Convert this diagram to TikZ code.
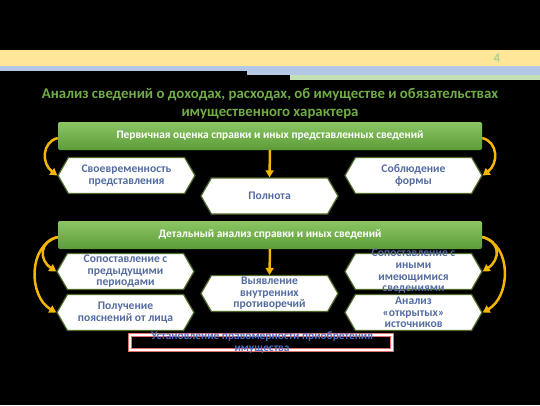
\documentclass[tikz,border=0pt]{standalone}
\usepackage{fontspec}
\setmainfont{Carlito}
\usetikzlibrary{scopes,shapes.symbols,arrows.meta}
\definecolor{slideYellow}{RGB}{255,230,153}
\definecolor{slideBlue}{RGB}{180,199,231}
\definecolor{slideGreen}{RGB}{197,224,180}
\definecolor{titleGreen}{RGB}{112,173,71}
\definecolor{barTop}{RGB}{140,198,100}
\definecolor{barBottom}{RGB}{92,156,56}
\definecolor{hexBorder}{RGB}{79,104,40}
\definecolor{hexText}{RGB}{84,108,160}
\definecolor{arrowGold}{RGB}{244,182,0}
\definecolor{boxRed}{RGB}{234,110,110}
\definecolor{boxText}{RGB}{78,110,200}

\begin{document}
\begin{tikzpicture}[x=1pt,y=1pt]
    \fill[black] (0,0) rectangle (540,405);
    \useasboundingbox (0,0) rectangle (540,405);
    % header strips
    \fill[slideYellow] (0,339) rectangle (540,355);
    \fill[slideBlue] (0,334) rectangle (540,339);
    \fill[slideBlue] (247,330) rectangle (540,334);
    \fill[slideGreen] (290,325) rectangle (540,330);
    \node[text=slideGreen!70!titleGreen, font=\bfseries\fontsize{13}{14}\selectfont] (num) at (497,347) {4};
    \node[text=titleGreen, align=center, font=\bfseries\fontsize{14.8}{18}\selectfont] (title) at (270,301)
      {Анализ сведений о доходах, расходах, об имуществе и обязательствах\\имущественного характера};
    {[every node/.style={top color=barTop, bottom color=barBottom, rounded corners=2pt, minimum width=424pt, minimum height=28pt, text=white, font=\bfseries\fontsize{11.4}{12}\selectfont}]
    \node (POS) at (270,269) {Первичная оценка справки и иных представленных сведений};
    \node (DAS) at (270,170) {Детальный анализ справки и иных сведений};
    }
    {[every node/.style={shape=signal, signal to=west and east, signal pointer angle=120, draw=hexBorder, line width=1.2pt, fill=white, minimum width=137pt, minimum height=36pt, inner sep=1pt, align=center, text=hexText, font=\bfseries\fontsize{11.6}{11.6}\selectfont}]
    \node (SVR) at (126.5,229.5) {Своевременность\\представления};
    \node (PLN) at (269.5,209) {Полнота};
    \node (SBF) at (413.5,229.5) {Соблюдение\\формы};
    \node (SPP) at (125.5,133.5) {Сопоставление с\\предыдущими\\периодами};
    \node (PPL) at (125.5,92.5) {Получение\\пояснений от лица};
    \node (VVP) at (269.5,111.5) {Выявление\\внутренних\\противоречий};
    \node (SIS) at (413.5,133.5) {};
    \node (AOI) at (413.5,92.5) {Анализ\\«открытых»\\источников};
    }
    \node[text=hexText, align=center, font=\bfseries\fontsize{11.6}{11.6}\selectfont] (SIS-text) at (SIS) {Сопоставление с\\иными\\имеющимися\\сведениями};
    \node[draw=boxRed, double=white, double distance=1.2pt, line width=1pt, fill=black, minimum width=262pt, minimum height=15pt] (UPP) at (261,62.5) {};
    \node[text=boxText, align=center, font=\bfseries\fontsize{11.4}{12}\selectfont] (UPP-text) at (262,62.5) {Установление правомерности приобретения\\имущества};
    {[arrowGold, line width=2.5pt, -{Triangle[length=7pt,width=8pt]}]
      \draw ([yshift=-2pt]POS.west) .. controls +(-16,-4) and +(-16,12) .. (SVR.west);
      \draw ([yshift=-2pt]POS.east) .. controls +(16,-4) and +(16,12) .. (SBF.east);
      \draw (POS.south) -- (PLN.north);
      \draw ([yshift=-2pt]DAS.west) .. controls +(-18,-4) and +(-18,12) .. (SPP.west);
      \draw ([yshift=-2pt]DAS.west) .. controls +(-30,-8) and +(-28,16) .. (PPL.west);
      \draw ([yshift=-2pt]DAS.east) .. controls +(18,-4) and +(18,12) .. (SIS.east);
      \draw ([yshift=-2pt]DAS.east) .. controls +(30,-8) and +(28,16) .. (AOI.east);
      \draw (DAS.south) -- (VVP.north);
    }
\end{tikzpicture}
\end{document}
